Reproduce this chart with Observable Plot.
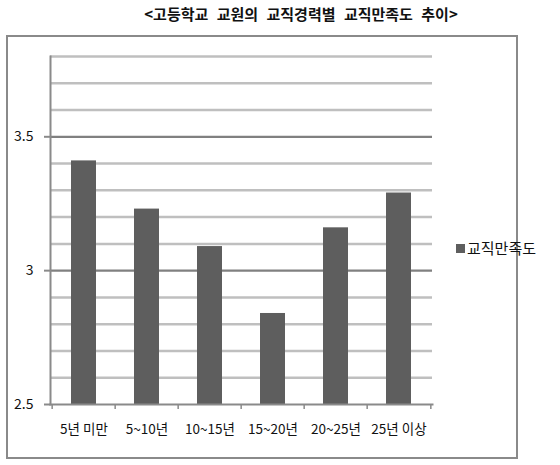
<!DOCTYPE html>
<html>
<head>
<meta charset="utf-8">
<script src="https://cdn.jsdelivr.net/npm/d3@7"></script>
<script src="https://cdn.jsdelivr.net/npm/@observablehq/plot@0.6"></script>
<style>
  html, body { margin: 0; padding: 0; background: #fff; }
  body { width: 560px; height: 465px; position: relative; overflow: hidden;
         font-family: "Noto Sans CJK KR", "Noto Sans", sans-serif; }
  #title { position: absolute; left: 42px; width: 518px; top: 3px; text-align: center;
           font-size: 15px; font-weight: bold; line-height: 22px; color: #111; word-spacing: 5px; }
  #frame { position: absolute; left: 6px; top: 35px; width: 512px; height: 424px;
           border: 2px solid #8a8a8a; box-sizing: border-box; }
  #chart { position: absolute; left: 0; top: 30px; }
  #legend { position: absolute; left: 456px; top: 238px; font-size: 15px; line-height: 20px;
            color: #111; display: flex; align-items: center; }
  #legend .sw { width: 9px; height: 9px; background: #5e5e5e; margin-right: 2px; }
</style>
</head>
<body>
<div id="title">&lt;고등학교 교원의 교직경력별 교직만족도 추이&gt;</div>
<div id="frame"></div>
<div id="chart"></div>
<div id="legend"><span class="sw"></span><span>교직만족도</span></div>
<script>
const categories = ["5년 미만", "5~10년", "10~15년", "15~20년", "20~25년", "25년 이상"];
const values = [3.41, 3.23, 3.09, 2.84, 3.16, 3.29];
const majorTicks = [2.5, 3, 3.5];
const minorTicks = [2.6, 2.7, 2.8, 2.9, 3.1, 3.2, 3.3, 3.4, 3.6, 3.7, 3.8];
const seriesName = "교직만족도";

const data = categories.map((c, i) => ({category: c, value: values[i]}));

const W = 560, H = 435, mL = 50, mR = 128, mT = 26, mB = 61;
const step = (W - mL - mR) / categories.length;

const chart = Plot.plot({
  width: W, height: H,
  marginLeft: mL, marginRight: mR, marginTop: mT, marginBottom: mB,
  style: {fontFamily: "'Noto Sans CJK KR', sans-serif", fontSize: "13.5px", color: "#111", background: "transparent", overflow: "visible"},
  x: {domain: categories, paddingInner: 0.6, paddingOuter: 0.3, label: null},
  y: {domain: [2.5, 3.8], label: null},
  marks: [
    Plot.ruleY(minorTicks, {stroke: "#bfbfbf", strokeWidth: 2.5}),
    Plot.ruleY([3, 3.5], {stroke: "#808080", strokeWidth: 2.2}),
    Plot.barY(data, {x: "category", y1: 2.5, y2: "value", fill: "#5e5e5e"}),
    Plot.frame({anchor: "left", stroke: "#8a8a8a", strokeWidth: 2}),
    Plot.frame({anchor: "bottom", stroke: "#8a8a8a", strokeWidth: 2}),
    Plot.ruleX(categories, {x: d => d, dx: -step / 2, y1: 2.5, y2: 2.481, stroke: "#8a8a8a", strokeWidth: 1.5}),
    Plot.ruleX(categories.slice(-1), {x: d => d, dx: step / 2, y1: 2.5, y2: 2.481, stroke: "#8a8a8a", strokeWidth: 1.5}),
    Plot.axisY({ticks: majorTicks, tickFormat: d => String(d), tickSize: 6, tickPadding: 11, stroke: "#8a8a8a", strokeWidth: 2, fill: "#111", fontSize: 14}),
    Plot.axisX({tickSize: 0, tickPadding: 20, fill: "#111", fontSize: 13.5})
  ]
});
document.getElementById("chart").appendChild(chart);
</script>
</body>
</html>
